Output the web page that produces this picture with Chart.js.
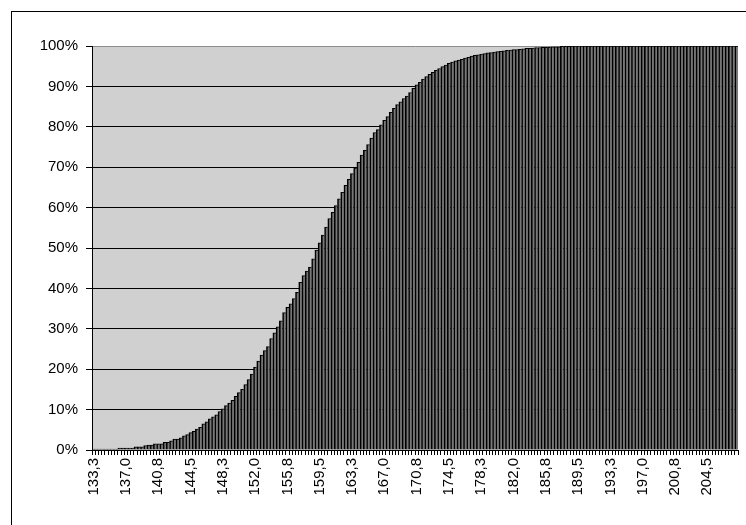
<!DOCTYPE html>
<html>
<head>
<meta charset="utf-8">
<script src="https://cdn.jsdelivr.net/npm/chart.js@4/dist/chart.umd.min.js"></script>
<style>
  body { margin: 0; background: #fff; }
  canvas { display: block; }
</style>
</head>
<body>
<canvas id="chartCum" width="746" height="525"></canvas>
<script>
// bins: 200 classes, first at 133.25, width 0.375
const binStart = 133.25
const binWidth = 0.375
const binCount = 200

// labels printed under the axis, one every 10 bins
const tickLabels = ['133,3', '137,0', '140,8', '144,5', '148,3', '152,0', '155,8', '159,5', '163,3', '167,0',
    '170,8', '174,5', '178,3', '182,0', '185,8', '189,5', '193,3', '197,0', '200,8', '204,5']

// cumulative percentage per bin
const cumPct = [
    0.2, 0.2, 0.2, 0.2, 0.2, 0.2, 0.2, 0.2, 0.5, 0.5,
    0.5, 0.5, 0.5, 0.8, 0.8, 0.8, 1.1, 1.2, 1.2, 1.5,
    1.5, 1.5, 1.9, 1.9, 2.3, 2.7, 2.7, 3.0, 3.5, 3.8,
    4.3, 4.6, 5.2, 5.6, 6.5, 7.0, 7.7, 8.2, 8.7, 9.5,
    10.2, 11.0, 11.6, 12.3, 13.3, 14.2, 15.0, 16.2, 17.4, 18.8,
    20.5, 22.0, 23.5, 24.6, 25.6, 27.6, 29.0, 30.5, 32.0, 34.0,
    35.3, 36.2, 37.5, 39.0, 41.5, 43.2, 44.3, 45.3, 47.3, 49.5,
    51.3, 53.2, 55.2, 57.3, 58.8, 60.5, 62.2, 63.8, 65.5, 67.0,
    68.4, 69.8, 71.2, 73.0, 74.2, 75.6, 77.2, 78.6, 79.3, 80.5,
    81.6, 82.5, 83.6, 84.6, 85.5, 86.2, 87.0, 87.6, 88.5, 89.5,
    90.4, 91.0, 91.8, 92.4, 93.0, 93.5, 94.0, 94.4, 94.9, 95.3,
    95.7, 96.0, 96.3, 96.5, 96.7, 97.0, 97.2, 97.5, 97.7, 97.8,
    98.0, 98.1, 98.3, 98.4, 98.5, 98.6, 98.7, 98.8, 98.9, 99.0,
    99.1, 99.1, 99.2, 99.3, 99.4, 99.4, 99.5, 99.6, 99.6, 99.7,
    99.7, 99.7, 99.8, 99.8, 99.8, 99.9, 99.9, 99.9, 100, 100,
    100, 100, 100, 100, 100, 100, 100, 100, 100, 100,
    100, 100, 100, 100, 100, 100, 100, 100, 100, 100,
    100, 100, 100, 100, 100, 100, 100, 100, 100, 100,
    100, 100, 100, 100, 100, 100, 100, 100, 100, 100,
    100, 100, 100, 100, 100, 100, 100, 100, 100, 100
]

var categories = []
for (var i = 0; i < binCount; i++) {
    categories.push((binStart + binWidth * i).toFixed(1).replace('.', ','))
}

var font = { family: "'Liberation Sans', Arial, sans-serif", size: 15 }

var plotBg = {
    id: 'plotBg',
    beforeDraw(chart) {
        var a = chart.chartArea, ctx = chart.ctx
        ctx.save()
        ctx.fillStyle = '#d0d0d0'
        ctx.fillRect(a.left, a.top, a.right - a.left, a.bottom - a.top)
        ctx.restore()
    },
    afterDraw(chart) {
        var ctx = chart.ctx
        ctx.save()
        ctx.strokeStyle = '#000'
        ctx.lineWidth = 1
        ctx.strokeRect(11.5, 11.5, 800, 600)
        ctx.restore()
    }
}

var ctxCum = document.getElementById('chartCum').getContext('2d');
var chartCum = new Chart(ctxCum, {
    type: 'bar',
    data: {
        labels: categories,
        datasets: [{
            data: cumPct,
            backgroundColor: '#777777',
            borderColor: '#000',
            borderWidth: { left: 2, top: 1, right: 0, bottom: 0 },
            borderSkipped: false,
            barPercentage: 1,
            categoryPercentage: 1
        }]
    },
    options: {
        responsive: false,
        animation: false,
        layout: { padding: { left: 0, top: 46, right: 8, bottom: 0 } },
        plugins: { legend: { display: false }, tooltip: { enabled: false } },
        scales: {
            x: {
                afterFit(s) { s.height = 75; s.paddingLeft = 0; s.paddingRight = 0 },
                border: { color: '#000', width: 1 },
                grid: { drawOnChartArea: false, color: '#000', tickLength: 5 },
                ticks: {
                    autoSkip: false,
                    maxRotation: 90,
                    minRotation: 90,
                    padding: 3,
                    color: '#000',
                    font: font,
                    callback: function (v, idx) {
                        return idx % 10 === 0 ? tickLabels[idx / 10] : ''
                    }
                }
            },
            y: {
                min: 0,
                max: 100,
                z: 1,
                afterFit(s) { s.width = 92; s.paddingTop = 0; s.paddingBottom = 0 },
                border: { color: '#000', width: 1 },
                grid: {
                    color: function (c) { return c.tick && c.tick.value === 100 ? '#8c8c8c' : '#000' },
                    tickColor: '#000',
                    tickLength: 6
                },
                ticks: {
                    stepSize: 10,
                    padding: 8,
                    color: '#000',
                    font: font,
                    callback: function (v) { return v + '%' }
                }
            }
        }
    },
    plugins: [plotBg]
});
</script>
</body>
</html>
